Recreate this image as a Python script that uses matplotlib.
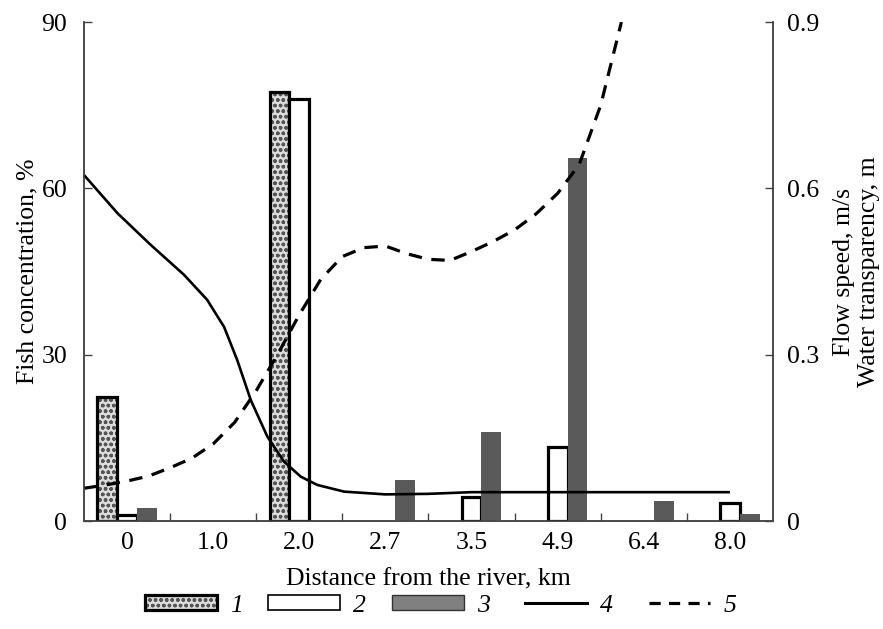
import matplotlib
matplotlib.use('Agg')
import numpy as np
import matplotlib.pyplot as plt
from matplotlib.patches import Patch
from matplotlib.lines import Line2D
from matplotlib.legend_handler import HandlerTuple, HandlerLine2D

plt.rcParams['font.family'] = ['Liberation Serif', 'DejaVu Serif']
plt.rcParams['hatch.linewidth'] = 1.0

# distances (km), one category each
distances = ['0', '1.0', '2.0', '2.7', '3.5', '4.9', '6.4', '8.0']

# fish concentration, %
fish_1 = [22.4, 0, 77.4, 0, 0, 0, 0, 0]
fish_2 = [1.0, 0, 76.1, 0, 4.3, 13.4, 0, 3.2]
fish_3 = [2.4, 0, 0, 7.4, 16.1, 65.5, 3.6, 1.2]

# flow speed, m/s (read along the category axis)
flow_pos = [-0.5, -0.11, 0.275, 0.662, 0.93, 1.127, 1.28, 1.437, 1.63,
            1.823, 2.017, 2.21, 2.52, 3.0, 3.5, 4.0, 5.0, 6.0, 7.0]
flow_speed = [0.624, 0.555, 0.498, 0.444, 0.399, 0.350, 0.290, 0.218,
              0.152, 0.107, 0.080, 0.065, 0.053, 0.048, 0.049, 0.052,
              0.052, 0.052, 0.052]

# water transparency, m
transp_pos = [-0.5, -0.25, 0, 0.25, 0.5, 0.75, 1.0, 1.25, 1.5, 1.75, 2.0,
              2.25, 2.5, 2.75, 3.0, 3.25, 3.5, 3.75, 4.0, 4.25, 4.5, 4.75,
              5.0, 5.25, 5.5, 5.74]
transparency = [0.059, 0.065, 0.072, 0.081, 0.096, 0.113, 0.139, 0.178,
                0.235, 0.301, 0.372, 0.436, 0.477, 0.493, 0.496, 0.482,
                0.472, 0.470, 0.486, 0.504, 0.525, 0.554, 0.591, 0.643,
                0.750, 0.900]

GRAY = '#5a5a5a'
HATCH_FACE = '#dcdcdc'
HATCH_INK = '#555555'
FS = 18.5


def nonzero(vals, offset):
    # skip empty bars so no outline is drawn on the axis
    idx = [i for i, v in enumerate(vals) if v > 0]
    return np.array(idx) + offset, [vals[i] for i in idx]


fig = plt.figure(figsize=(8.83, 6.29), dpi=100)
ax = fig.add_axes([0.0951, 0.1717, 0.7803, 0.7933])

x = np.arange(len(distances))
w = 0.23

# series 1: hatched fill with a separate black outline
bx, bv = nonzero(fish_1, -w)
ax.bar(bx, bv, w, color=HATCH_FACE, edgecolor=HATCH_INK,
       hatch='ooo', linewidth=0, zorder=2)
ax.bar(bx, bv, w, fill=False, edgecolor='black', linewidth=2.3, zorder=3)
bx, bv = nonzero(fish_2, 0)
ax.bar(bx, bv, w, color='white', edgecolor='black', linewidth=2.3,
       zorder=3)
bx, bv = nonzero(fish_3, w)
ax.bar(bx, bv, w, color=GRAY, linewidth=0, zorder=3)

ax.set_xlim(-0.5, 7.5)
ax.set_ylim(0, 90)
ax.set_yticks([0, 30, 60, 90])
ax.set_xticks(x)
ax.set_xticklabels(distances)
ax.set_xticks(np.arange(0.5, 7, 1), minor=True)
ax.tick_params(axis='x', which='major', length=0, pad=8, labelsize=FS)
ax.tick_params(axis='x', which='minor', direction='in', length=6,
               width=1, color='#444')
ax.tick_params(axis='y', direction='in', length=6, width=1, color='#444',
               pad=12, labelsize=FS)
ax.set_ylabel('Fish concentration, %', fontsize=FS, labelpad=2)
ax.set_xlabel('Distance from the river, km', fontsize=FS, labelpad=10)

ax2 = ax.twinx()
ax2.set_ylim(0, 0.9)
ax2.set_yticks([0, 0.3, 0.6, 0.9])
ax2.set_yticklabels(['0', '0.3', '0.6', '0.9'])
ax2.tick_params(axis='y', direction='in', length=6, width=1, color='#444',
                pad=10, labelsize=FS)
ax2.set_ylabel('Flow speed, m/s\nWater transparency, m', fontsize=FS,
               labelpad=10, linespacing=1.2)

ax2.plot(flow_pos, flow_speed, color='black', linewidth=1.9,
         solid_capstyle='butt', solid_joinstyle='round', clip_on=False)
ax2.plot(transp_pos, transparency, color='black', linewidth=2.3,
         dashes=(4.2, 3.0), dash_capstyle='butt')

for a in (ax, ax2):
    a.spines['top'].set_visible(False)
    for s in ('left', 'right', 'bottom'):
        a.spines[s].set_color('#444')
        a.spines[s].set_linewidth(1.1)

h1 = (Patch(facecolor=HATCH_FACE, edgecolor=HATCH_INK, hatch='ooo',
            linewidth=0),
      Patch(fill=False, edgecolor='black', linewidth=2.3))
h2 = Patch(facecolor='white', edgecolor='black', linewidth=1.2)
h3 = Patch(facecolor='#808080', edgecolor='#333', linewidth=1.0)
h4 = Line2D([], [], color='black', linewidth=2.2)
h5 = Line2D([], [], color='black', linewidth=2.3, dashes=(3.5, 2.6))

leg = fig.legend([h1, h2, h3, h4, h5], ['1', '2', '3', '4', '5'],
                 handler_map={tuple: HandlerTuple(ndivide=1),
                              h4: HandlerLine2D(xpad=0.4),
                              h5: HandlerLine2D(xpad=0.4)},
                 loc='center', bbox_to_anchor=(0.499, 0.037), ncol=5,
                 frameon=False, handlelength=2.8, handleheight=0.55,
                 handletextpad=0.5, columnspacing=1.0,
                 prop={'size': FS, 'style': 'italic'})

fig.savefig('out.png', dpi=100)
